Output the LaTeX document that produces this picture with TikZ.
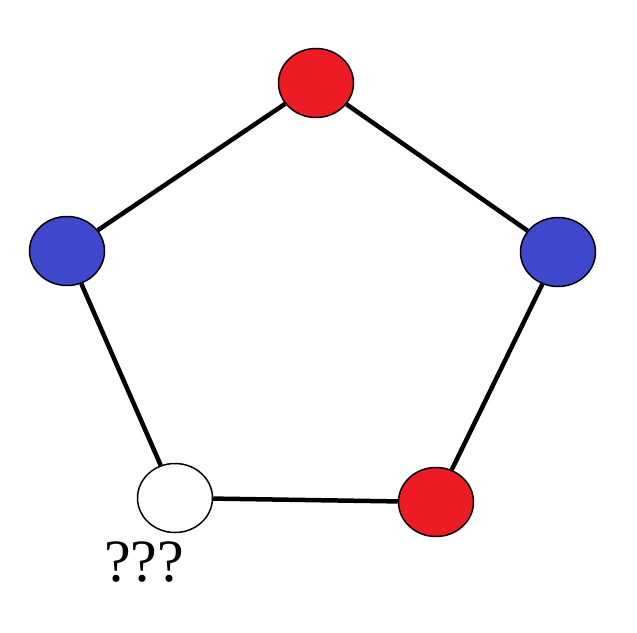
\documentclass[tikz,border=0pt]{standalone}
\usepackage{fontspec}
\setmainfont{Liberation Serif}
\usetikzlibrary{shapes.geometric}
\definecolor{vred}{HTML}{ED1C24}
\definecolor{vblue}{HTML}{3F48CC}
\tikzset{
  vert/.style={ellipse, draw=black, line width=1.5pt, minimum width=75pt, minimum height=69pt, inner sep=0pt},
  edgeline/.style={line width=4.5pt, black}
}
\begin{document}
\begin{tikzpicture}[x=1pt,y=-1pt]
\useasboundingbox (0,0) rectangle (637,632);
\fill[white] (0,0) rectangle (637,632);
\node[vert, fill=vred] (top) at (316,83) {};
\node[vert, fill=vblue] (left) at (67,251) {};
\node[vert, fill=vblue] (right) at (558,252) {};
\node[vert, fill=white] (bl) at (175,498) {};
\node[vert, fill=vred] (br) at (436,502) {};
\node[font=\fontsize{60}{60}\selectfont, anchor=center] (q) at (144,562) {???};
\draw[edgeline] (top) -- (left);
\draw[edgeline] (top) -- (right);
\draw[edgeline] (left) -- (bl);
\draw[edgeline] (right) -- (br);
\draw[edgeline] (bl) -- (br);
\end{tikzpicture}
\end{document}
